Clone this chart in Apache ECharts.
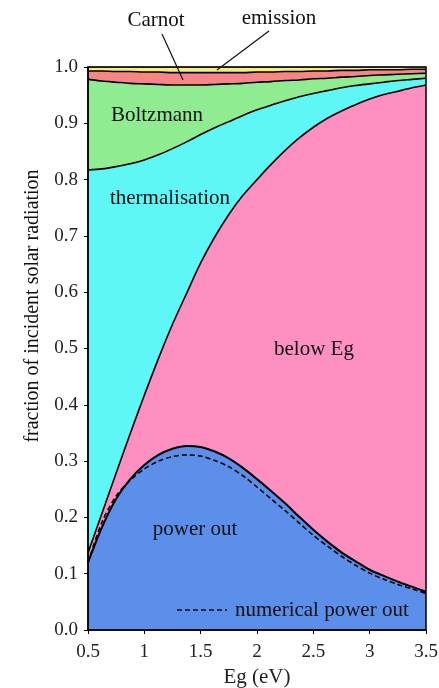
<!DOCTYPE html>
<html>
<head>
<meta charset="utf-8">
<script src="https://cdn.jsdelivr.net/npm/echarts@6/dist/echarts.min.js"></script>
<style>html,body{margin:0;padding:0;background:#fff}#c{width:439px;height:688px}</style>
</head>
<body>
<div id="c"></div>
<script>
const eg = [0.5, 0.625, 0.75, 0.875, 1.0, 1.125, 1.25, 1.375, 1.5, 1.625, 1.75, 1.875, 2.0, 2.125, 2.25, 2.375, 2.5, 2.625, 2.75, 2.875, 3.0, 3.125, 3.25, 3.375, 3.5];
const powerOut = [0.120, 0.183, 0.233, 0.268, 0.293, 0.311, 0.322, 0.327, 0.325, 0.317, 0.305, 0.288, 0.268, 0.247, 0.225, 0.201, 0.178, 0.157, 0.138, 0.122, 0.107, 0.096, 0.086, 0.077, 0.068];
const belowEg = [0.017, 0.025, 0.046, 0.081, 0.124, 0.171, 0.221, 0.271, 0.327, 0.381, 0.433, 0.484, 0.532, 0.580, 0.627, 0.673, 0.715, 0.752, 0.784, 0.811, 0.836, 0.855, 0.871, 0.886, 0.900];
const thermalisation = [0.680, 0.611, 0.544, 0.479, 0.418, 0.362, 0.312, 0.269, 0.228, 0.194, 0.165, 0.142, 0.124, 0.105, 0.088, 0.073, 0.060, 0.049, 0.041, 0.034, 0.027, 0.022, 0.019, 0.015, 0.012];
const boltzmann = [0.161, 0.156, 0.150, 0.143, 0.135, 0.125, 0.113, 0.101, 0.088, 0.077, 0.067, 0.057, 0.049, 0.042, 0.036, 0.030, 0.026, 0.022, 0.019, 0.016, 0.015, 0.013, 0.011, 0.010, 0.009];
const carnot = [0.015, 0.018, 0.019, 0.021, 0.021, 0.022, 0.022, 0.022, 0.022, 0.021, 0.020, 0.019, 0.018, 0.017, 0.016, 0.015, 0.014, 0.013, 0.012, 0.011, 0.010, 0.009, 0.008, 0.008, 0.007];
const emission = [0.007, 0.007, 0.008, 0.008, 0.009, 0.009, 0.010, 0.010, 0.010, 0.010, 0.010, 0.010, 0.009, 0.009, 0.008, 0.008, 0.007, 0.007, 0.006, 0.006, 0.005, 0.005, 0.005, 0.004, 0.004];
const numericalPowerOut = [0.120, 0.192, 0.238, 0.266, 0.286, 0.300, 0.308, 0.311, 0.309, 0.301, 0.290, 0.274, 0.254, 0.233, 0.212, 0.190, 0.168, 0.149, 0.131, 0.115, 0.101, 0.090, 0.081, 0.073, 0.065];
const yTicks = ['0.0','0.1','0.2','0.3','0.4','0.5','0.6','0.7','0.8','0.9','1.0'];
const xTicks = {0.5:'0.5',1:'1',1.5:'1.5',2:'2',2.5:'2.5',3:'3',3.5:'3.5'};

const FONT = 'Liberation Serif';
const SMOOTH = 0.3;
const layers = [
  ['power out', powerOut, '#5b8fea', 2],
  ['below Eg', belowEg, '#fd8fc1', 1.6],
  ['thermalisation', thermalisation, '#5ff6f6', 1.6],
  ['Boltzmann', boltzmann, '#90ec90', 1.6],
  ['Carnot', carnot, '#f78585', 1.6],
  ['emission', emission, '#f3ef7c', 1.2]
];
// cumulative stacking (the series are stacked fractions)
const cum = eg.map(() => 0);
const series = layers.map(([name, arr, color, lw]) => {
  const data = eg.map((x, i) => { cum[i] += arr[i]; return [x, Math.min(1, cum[i])]; });
  return {
    name, type: 'line', smooth: SMOOTH, showSymbol: false, silent: true, data,
    lineStyle: { color: '#000', width: lw },
    areaStyle: { color: color, opacity: 1, origin: 'start' }
  };
});
series.reverse();
series.forEach((s, i) => { s.z = 2 + i; });
series.push({
  name: 'numerical power out', type: 'line', smooth: SMOOTH, showSymbol: false, silent: true,
  data: eg.map((x, i) => [x, numericalPowerOut[i]]),
  lineStyle: { color: '#000', width: 1.6, type: [5, 3] }, z: 20
});

const T = (text, x, y, size, align, extra) => Object.assign({ type: 'text', x, y, z: 40, silent: true,
  style: { text, fontFamily: FONT, fontSize: size, fill: '#111', align: align || 'center', verticalAlign: 'middle' } }, extra || {});

const chart = echarts.init(document.getElementById('c'));
chart.setOption({
  animation: false,
  backgroundColor: '#fff',
  grid: { left: 88, right: 13, top: 67, bottom: 58, show: false, containLabel: false, outerBoundsMode: 'none' },
  xAxis: {
    type: 'value', min: 0.5, max: 3.5, interval: 0.5,
    axisLine: { show: true, onZero: false, lineStyle: { color: '#000', width: 1.5 } },
    axisTick: { show: true, length: 4, lineStyle: { color: '#000' } },
    splitLine: { show: false },
    axisLabel: { fontFamily: FONT, fontSize: 19, color: '#222', margin: 13, formatter: v => xTicks[v] || '' },
    name: 'Eg (eV)', nameLocation: 'middle', nameGap: 37,
    nameTextStyle: { fontFamily: FONT, fontSize: 21, color: '#222' },
    z: 30
  },
  yAxis: {
    type: 'value', min: 0, max: 1, interval: 0.1,
    axisLine: { show: true, onZero: false, lineStyle: { color: '#000', width: 1.5 } },
    axisTick: { show: true, length: 4, lineStyle: { color: '#000' } },
    splitLine: { show: false },
    axisLabel: { fontFamily: FONT, fontSize: 19, color: '#222', margin: 10, formatter: (v) => yTicks[Math.round(v * 10)] },
    z: 30
  },
  series,
  graphic: [
    { type: 'rect', shape: { x: 88, y: 67, width: 338, height: 563 }, style: { fill: 'none', stroke: '#000', lineWidth: 1.5 }, z: 40, silent: true },
    T('Carnot', 156, 20, 21),
    T('emission', 279, 18, 21),
    { type: 'line', shape: { x1: 162, y1: 34, x2: 183, y2: 80 }, style: { stroke: '#111', lineWidth: 1.2 }, z: 40 },
    { type: 'line', shape: { x1: 269, y1: 31, x2: 217, y2: 70 }, style: { stroke: '#111', lineWidth: 1.2 }, z: 40 },
    T('Boltzmann', 157, 115, 21),
    T('thermalisation', 170, 198, 21),
    T('below Eg', 314, 349, 21),
    T('power out', 195, 529, 21),
    { type: 'line', shape: { x1: 177, y1: 610, x2: 227, y2: 610 }, style: { stroke: '#111', lineWidth: 1.5, lineDash: [5, 3] }, z: 40 },
    T('numerical power out', 235, 610, 21, 'left'),
    T('fraction of incident solar radiation', 33, 306, 20, 'center', { rotation: Math.PI / 2 })
  ]
});
</script>
</body>
</html>
